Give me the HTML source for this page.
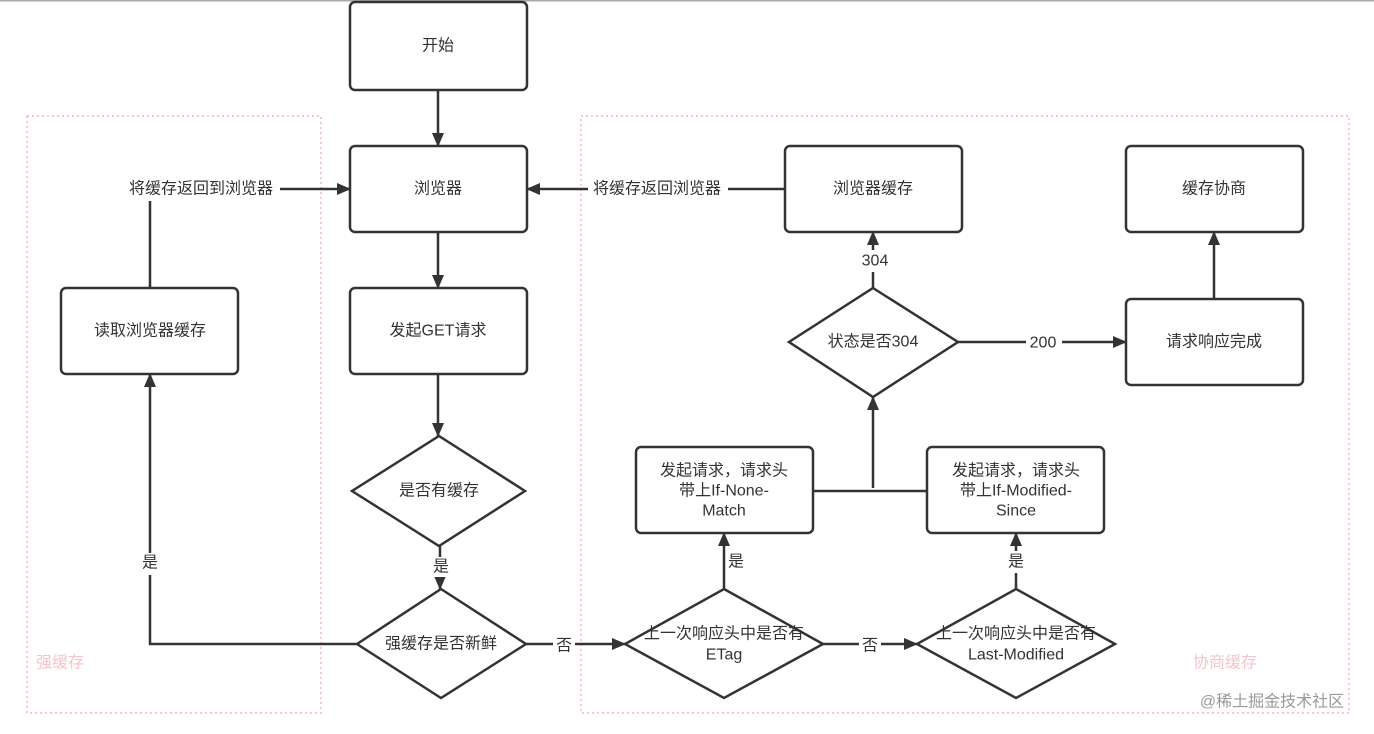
<!DOCTYPE html>
<html><head><meta charset="utf-8"><style>
html,body{margin:0;padding:0;background:#fff;}
svg{display:block;}
text{font-family:"Liberation Sans","Noto Sans CJK SC",sans-serif;font-size:16px;fill:#333;text-anchor:middle;dominant-baseline:central;}
.b{fill:#fff;stroke:#333;stroke-width:2.5;}
.l{stroke:#333;stroke-width:2.5;fill:none;}
.d{fill:none;stroke:#f7c6d0;stroke-width:2;stroke-dasharray:2 3;}
.lb{fill:#fff;}
</style></head><body>
<svg width="1374" height="734" viewBox="0 0 1374 734">
<defs><marker id="a" markerWidth="14" markerHeight="14" refX="13" refY="7" orient="auto" markerUnits="userSpaceOnUse"><path d="M0,1 L14,7 L0,13 z" fill="#333"/></marker></defs>
<rect x="0" y="0" width="1374" height="734" fill="#fff"/>
<line x1="0" y1="0.5" x2="1374" y2="0.5" stroke="#aaa" stroke-width="2"/>
<rect class="d" x="27" y="116" width="294" height="597"/>
<rect class="d" x="581" y="116" width="768" height="597"/>
<text x="60" y="663" style="fill:#f6c3cc">强缓存</text>
<text x="1225" y="663" style="fill:#f6c3cc">协商缓存</text>
<text x="1272" y="702" style="fill:#999">@稀土掘金技术社区</text>

<line class="l" x1="438" y1="90" x2="438" y2="146" marker-end="url(#a)"/>
<line class="l" x1="438" y1="232" x2="438" y2="288" marker-end="url(#a)"/>
<line class="l" x1="438" y1="374" x2="438" y2="436" marker-end="url(#a)"/>
<line class="l" x1="440" y1="546" x2="440" y2="589" marker-end="url(#a)"/>
<polyline class="l" points="357,644 150,644 150,374" marker-end="url(#a)"/>
<polyline class="l" points="150,288 150,189 350,189" marker-end="url(#a)"/>
<line class="l" x1="526" y1="644" x2="625" y2="644" marker-end="url(#a)"/>
<line class="l" x1="724" y1="589" x2="724" y2="533" marker-end="url(#a)"/>
<line class="l" x1="823" y1="644" x2="917" y2="644" marker-end="url(#a)"/>
<line class="l" x1="1016" y1="589" x2="1016" y2="533" marker-end="url(#a)"/>
<line class="l" x1="813" y1="491" x2="927" y2="491"/>
<line class="l" x1="873" y1="488" x2="873" y2="397" marker-end="url(#a)"/>
<line class="l" x1="873" y1="288" x2="873" y2="232" marker-end="url(#a)"/>
<line class="l" x1="958" y1="342" x2="1126" y2="342" marker-end="url(#a)"/>
<line class="l" x1="1214" y1="299" x2="1214" y2="232" marker-end="url(#a)"/>
<line class="l" x1="785" y1="189" x2="527" y2="189" marker-end="url(#a)"/>

<rect class="lb" x="120" y="177" width="160" height="24"/><text x="201" y="189">将缓存返回到浏览器</text>
<rect class="lb" x="588" y="177" width="140" height="24"/><text x="657" y="189">将缓存返回浏览器</text>
<rect class="lb" x="140" y="553" width="20" height="22"/><text x="150" y="563">是</text>
<rect class="lb" x="431" y="557" width="20" height="20"/><text x="441" y="567">是</text>
<rect class="lb" x="553" y="635" width="22" height="22"/><text x="564" y="646">否</text>
<rect class="lb" x="726" y="551" width="22" height="22"/><text x="736" y="562">是</text>
<rect class="lb" x="859" y="635" width="22" height="22"/><text x="870" y="646">否</text>
<rect class="lb" x="1006" y="551" width="22" height="22"/><text x="1016" y="562">是</text>
<rect class="lb" x="858" y="250" width="34" height="22"/><text x="875" y="261">304</text>
<rect class="lb" x="1026" y="332" width="36" height="22"/><text x="1043" y="343">200</text>

<rect class="b" x="350" y="2" width="177" height="88" rx="5"/><text x="438" y="46">开始</text>
<rect class="b" x="350" y="146" width="177" height="86" rx="5"/><text x="438" y="189">浏览器</text>
<rect class="b" x="350" y="288" width="177" height="86" rx="5"/><text x="438" y="331">发起GET请求</text>
<rect class="b" x="61" y="288" width="177" height="86" rx="5"/><text x="150" y="331">读取浏览器缓存</text>
<rect class="b" x="785" y="146" width="177" height="86" rx="5"/><text x="873" y="189">浏览器缓存</text>
<rect class="b" x="1126" y="146" width="177" height="86" rx="5"/><text x="1214" y="189">缓存协商</text>
<rect class="b" x="1126" y="299" width="177" height="86" rx="5"/><text x="1214" y="342">请求响应完成</text>
<rect class="b" x="636" y="447" width="177" height="86" rx="5"/>
<text x="724" y="471">发起请求，请求头</text><text x="724" y="491">带上If-None-</text><text x="724" y="511">Match</text>
<rect class="b" x="927" y="447" width="177" height="86" rx="5"/>
<text x="1016" y="471">发起请求，请求头</text><text x="1016" y="491">带上If-Modified-</text><text x="1016" y="511">Since</text>

<polygon class="b" points="439,436 525,491 439,546 352,491"/><text x="439" y="491">是否有缓存</text>
<polygon class="b" points="441,589 526,644 441,698 357,644"/><text x="441" y="644">强缓存是否新鲜</text>
<polygon class="b" points="724,589 823,644 724,698 625,644"/><text x="724" y="634">上一次响应头中是否有</text><text x="724" y="655">ETag</text>
<polygon class="b" points="1016,589 1115,644 1016,698 917,644"/><text x="1016" y="634">上一次响应头中是否有</text><text x="1016" y="655">Last-Modified</text>
<polygon class="b" points="873,288 958,342 873,397 789,342"/><text x="873" y="342">状态是否304</text>
</svg>
</body></html>
